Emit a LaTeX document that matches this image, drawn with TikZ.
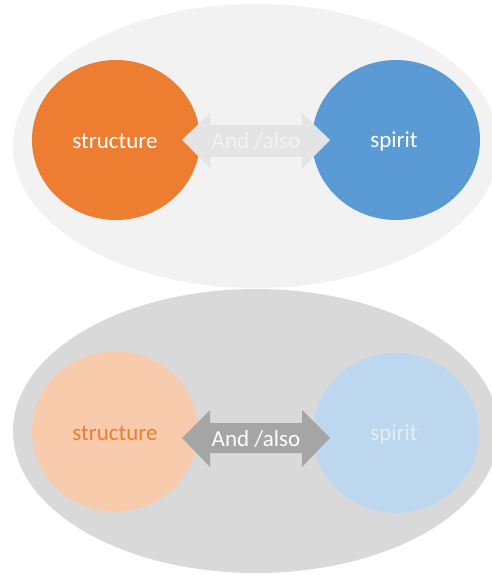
\documentclass[tikz,border=0pt]{standalone}
\usepackage{fontspec}
\setmainfont{Carlito}
\definecolor{orangeA}{HTML}{ED7D31}
\definecolor{blueA}{HTML}{5B9BD5}
\definecolor{orangeB}{HTML}{F8CBAD}
\definecolor{blueB}{HTML}{BDD7EE}
\definecolor{ovalA}{HTML}{F2F2F2}
\definecolor{ovalB}{HTML}{D9D9D9}
\definecolor{arrowA}{HTML}{E4E4E4}
\definecolor{arrowB}{HTML}{A5A5A5}
\definecolor{txtA}{HTML}{F3F3F3}
\definecolor{txtB}{HTML}{E2EEF9}
\begin{document}
\begin{tikzpicture}[x=1pt,y=-1pt,
  lbl/.style={font=\fontsize{23}{26}\selectfont, inner sep=0pt}]
\useasboundingbox (0,0) rectangle (491,575);
\fill[white] (0,0) rectangle (491,575);
% top group
\fill[ovalA] (256,146) ellipse [x radius=243, y radius=142];
\fill[orangeA] (116,140) ellipse [x radius=84, y radius=80];
\fill[blueA] (396,140) ellipse [x radius=84, y radius=80];
\fill[arrowA] (182,140) -- (210,113) -- (210,125) -- (302,125) -- (302,113)
  -- (330,140) -- (302,168) -- (302,157) -- (210,157) -- (210,168) -- cycle;
\node[lbl, text=white] (s1) at (115,141) {structure};
\node[lbl, text=txtA] (a1) at (256,141) {And /also};
\node[lbl, text=white] (p1) at (394,141) {spirit};
% bottom group
\fill[ovalB] (256,431) ellipse [x radius=243, y radius=142];
\fill[orangeB] (115,431.5) ellipse [x radius=83, y radius=80];
\fill[blueB] (396,433) ellipse [x radius=83, y radius=80];
\fill[arrowB] (182,438) -- (210,410) -- (210,423) -- (302,423) -- (302,410)
  -- (330,438) -- (302,467) -- (302,453) -- (210,453) -- (210,467) -- cycle;
\node[lbl, text=orangeA] (s2) at (115,433) {structure};
\node[lbl, text=white] (a2) at (256,439) {And /also};
\node[lbl, text=txtB] (p2) at (394,434) {spirit};
\end{tikzpicture}
\end{document}
